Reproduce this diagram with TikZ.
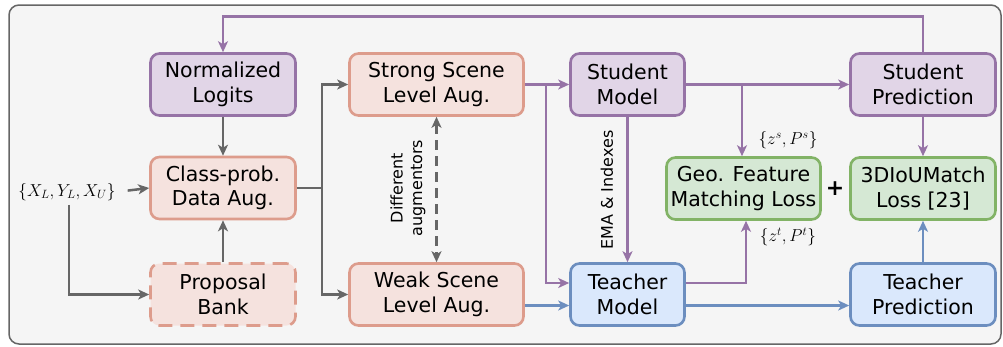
\documentclass[tikz,border=0pt]{standalone}
\usepackage{fontspec}
\setmainfont{DejaVu Sans}
\usetikzlibrary{arrows.meta}
\definecolor{pfill}{HTML}{E1D5E7}
\definecolor{pdraw}{HTML}{9673A6}
\definecolor{sfill}{HTML}{F5E2DE}
\definecolor{sdraw}{HTML}{DD9C8C}
\definecolor{bfill}{HTML}{DAE8FC}
\definecolor{bdraw}{HTML}{6C8EBF}
\definecolor{gfill}{HTML}{D5E8D4}
\definecolor{gdraw}{HTML}{82B366}
\definecolor{bgfill}{HTML}{F5F5F5}
\definecolor{gline}{HTML}{666666}
\begin{document}
\begin{tikzpicture}[x=1pt,y=-1pt,
  box/.style={rounded corners=9pt, line width=2.6pt, align=center, inner sep=0pt,
    minimum height=62pt, font=\fontsize{20.5}{24.6}\selectfont},
  pbox/.style={box, fill=pfill, draw=pdraw},
  sbox/.style={box, fill=sfill, draw=sdraw},
  bbox/.style={box, fill=bfill, draw=bdraw},
  gbox/.style={box, fill=gfill, draw=gdraw},
  tip/.style={-{Stealth[length=11pt 0,width=10pt 0,inset=3pt 0]}},
  garr/.style={draw=gline, line width=2.5pt, tip},
  parr/.style={draw=pdraw, line width=2.5pt, tip},
  barr/.style={draw=bdraw, line width=2.5pt, tip},
  small/.style={font=\fontsize{16}{19.5}\selectfont, align=center, inner sep=0pt},
  mlab/.style={font=\fontsize{17.5}{20}\selectfont, inner sep=0pt}
]
\useasboundingbox (0,0) rectangle (1003,346);
\draw[fill=bgfill, draw=gline, line width=1.5pt, rounded corners=10pt] (9,5) rectangle (1001,344);

% nodes
\node[pbox, minimum width=145pt] (norm) at (223,84.5) {Normalized\\Logits};
\node[sbox, minimum width=145pt] (cls) at (223,188) {Class-prob.\\Data Aug.};
\node[sbox, minimum width=145pt, dash pattern=on 14pt off 8pt] (prop) at (223,294.5) {Proposal\\Bank};
\node[mlab] (in) at (67,192) {$\{X_L,Y_L,X_U\}$};
\node[sbox, minimum width=174pt] (strong) at (436.5,84.5) {Strong Scene\\Level Aug.};
\node[sbox, minimum width=174pt] (weak) at (436.5,294.5) {Weak Scene\\Level Aug.};
\node[pbox, minimum width=114pt] (stud) at (627.5,84.5) {Student\\Model};
\node[bbox, minimum width=114pt] (teach) at (627.5,294.5) {Teacher\\Model};
\node[gbox, minimum width=154pt] (geo) at (743.5,188.5) {Geo. Feature\\Matching Loss};
\node[gbox, minimum width=145pt] (iou) at (923,188.5) {3DIoUMatch\\Loss [23]};
\node[pbox, minimum width=145pt] (spred) at (923,84.5) {Student\\Prediction};
\node[bbox, minimum width=145pt] (tpred) at (923,294.5) {Teacher\\Prediction};

% labels
\node[small, rotate=90] (diff) at (408,188) {Different\\augmentors};
\node[small, rotate=90] (ema) at (607,190) {EMA \& Indexes};
\node[mlab] (zs) at (788,140) {$\{z^s,P^s\}$};
\node[mlab] (zt) at (788,237) {$\{z^t,P^t\}$};
\node[inner sep=0pt, font=\fontsize{22}{26}\selectfont\bfseries] (plus) at (835,189) {+};

% coordinates
\coordinate (split) at (322,188);
\coordinate (b1) at (546,84.5);
\coordinate (b2) at (742,84.5);

% gray connectors
\draw[garr, shorten <=12pt] (in.east) -- (cls.west);
\draw[garr] ([xshift=2pt]in.south) ++(0,4) |- (prop.west);
\draw[garr] (norm.south) -- (cls.north);
\draw[garr] (prop.north) -- (cls.south);
\draw[draw=gline, line width=2.5pt] (cls.east) -- (split);
\draw[garr] (split) |- (strong.west);
\draw[garr] (split) |- (weak.west);
\draw[draw=gline, line width=2.5pt, dash pattern=on 10pt off 6pt,
  {Stealth[length=11pt 0,width=10pt 0,inset=3pt 0]}-{Stealth[length=11pt 0,width=10pt 0,inset=3pt 0]}]
  (strong.south) -- (weak.north);

% purple connectors
\draw[parr] (strong.east) -- (stud.west);
\draw[parr] (b1) |- ([yshift=11.5pt]teach.west);
\draw[parr] (stud.south) -- (teach.north);
\draw[parr] (stud.east) -- (spred.west);
\draw[parr] (b2) -- (b2 |- geo.north);
\draw[parr] ([yshift=11.5pt]teach.east) -| ([xshift=2.5pt]geo.south);
\draw[parr] (spred.south) -- (iou.north);
\draw[parr] (spred.north) -- ++(0,-35.5) -| (norm.north);

% blue connectors
\draw[barr] (weak.east) ++(0,11) -- ([yshift=-11pt]teach.west);
\draw[barr] ([yshift=-11pt]teach.east) -- ([yshift=-11pt]tpred.west);
\draw[barr] (tpred.north) -- (iou.south);
\end{tikzpicture}
\end{document}
